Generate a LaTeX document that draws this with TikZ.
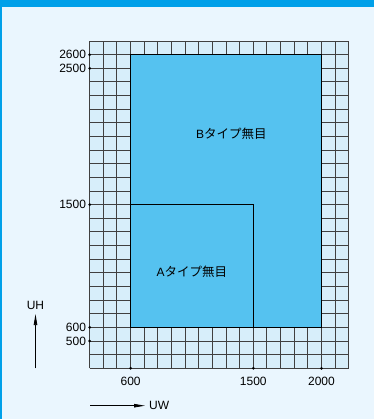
\documentclass[tikz,border=0pt]{standalone}
\usepackage{fontspec}
\setmainfont{Liberation Sans}
\newfontfamily\jpfont{Noto Sans CJK JP}
\usepackage{tikz}
\usetikzlibrary{arrows.meta}
\definecolor{barblue}{HTML}{00A0E9}
\definecolor{bgblue}{HTML}{EAF6FE}
\definecolor{cellblue}{HTML}{D7EEFA}
\definecolor{panelblue}{HTML}{55C2F0}
\tikzset{
    gridline/.style={draw=black!75,line width=1pt},
    panel/.style={fill=panelblue,draw=black,line width=1.4pt},
    axisarrow/.style={line width=0.8pt,-{Triangle[length=11pt,width=3.5pt]}},
}

\begin{document}
\begin{tikzpicture}[x=1pt,y=1pt]
            \fontsize{12}{14}\selectfont
            \useasboundingbox (0,0) rectangle (374,419);
            \fill[bgblue] (0,0) rectangle (374,419);
            \fill[barblue] (0,411.5) rectangle (374,419);
            \fill[barblue] (0,0) rectangle (2,419);

            \begin{scope}[shift={(48.8pt,9.8pt)},x=0.13633pt,y=0.13633pt]
            \fill[cellblue] (300,300) rectangle (2200,2700);
            \foreach \gx in {300,400,...,2200} \draw[gridline] (\gx,300) -- (\gx,2700);
            \foreach \gy in {300,400,...,2700} \draw[gridline] (300,\gy) -- (2200,\gy);

            \draw[panel] (600,600) rectangle (2000,2600);
            \draw[panel] (600,600) rectangle (1500,1500);
            \node (btype) at (1340,2020) {B{\jpfont\fontsize{12.5}{14}\selectfont タイプ無目}};
            \node (atype) at (1050,1005) {A{\jpfont\fontsize{12.5}{14}\selectfont タイプ無目}};

            \foreach \v in {2600,2500,1500,600,500}
                \fill (300,\v) circle (1.5pt) node[left,inner sep=3.5pt] (h\v) {\v};
            \foreach \v in {600,1500,2000}
                \fill (\v,300) circle (1.5pt) node[below=5pt] (w\v) {\v};
            \end{scope}

            \coordinate (uhfoot) at (35.5,50.7);
            \node (uh) at (35.5,113.3) {UH};
            \draw[axisarrow] (uhfoot) -- (uh);

            \coordinate (uwfoot) at (90,13.3);
            \node[anchor=west] (uw) at (145,13.3) {UW};
            \draw[axisarrow] (uwfoot) -- (uw);

        \end{tikzpicture}
\end{document}
